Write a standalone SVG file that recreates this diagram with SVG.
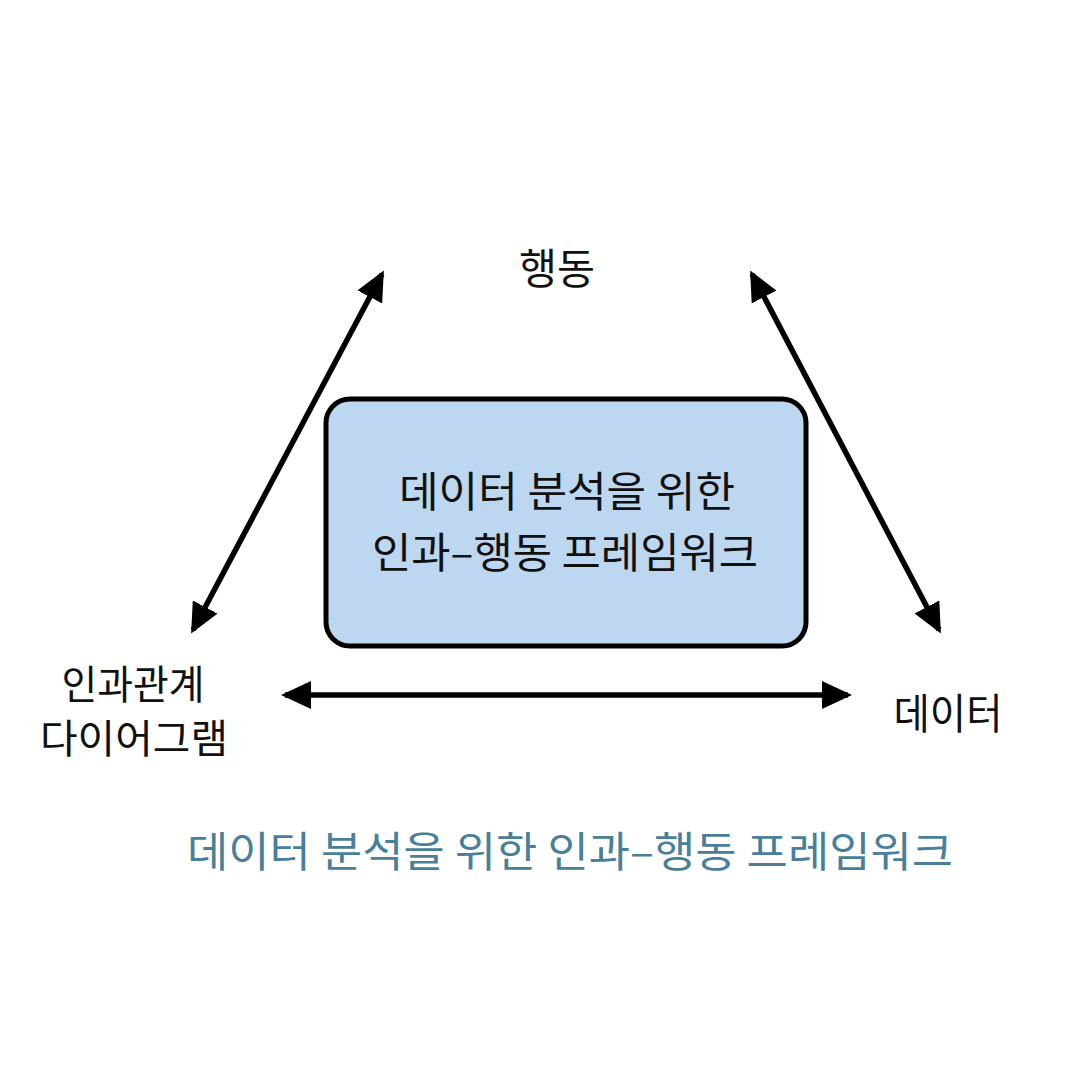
<svg xmlns="http://www.w3.org/2000/svg" width="1080" height="1080" viewBox="0 0 1080 1080">
<style>
.t{font-family:"Noto Sans CJK KR","Noto Sans",sans-serif;font-size:42px;fill:#111;text-anchor:middle}
.s{font-size:40px}
.cap{fill:#4a7f9a}
.c{stroke:#000;stroke-width:5.5;fill:none;marker-start:url(#ah);marker-end:url(#ah)}
</style>
<defs>
<marker id="ah" markerUnits="userSpaceOnUse" viewBox="0 0 30 28" refX="26" refY="14" markerWidth="30" markerHeight="28" orient="auto-start-reverse">
<path d="M0,0 L30,14 L0,28 Z" fill="#000"/>
</marker>
</defs>
<rect width="1080" height="1080" fill="#fff"/>
<g id="connectors">
<line class="c" x1="193" y1="630" x2="382" y2="274"/>
<line class="c" x1="752" y1="274" x2="939" y2="630"/>
<line class="c" x1="285" y1="695" x2="848" y2="695"/>
</g>
<g id="center">
<rect x="326" y="399" width="480" height="247" rx="24" fill="#bdd7f0" stroke="#000" stroke-width="5"/>
<text class="t" x="567" y="507" textLength="336" lengthAdjust="spacingAndGlyphs">데이터 분석을 위한</text>
<text class="t" x="565" y="568" textLength="386" lengthAdjust="spacingAndGlyphs">인과–행동 프레임워크</text>
</g>
<g id="action"><text class="t" x="557" y="284" textLength="76" lengthAdjust="spacingAndGlyphs">행동</text></g>
<g id="causal">
<text class="t s" x="133" y="699" textLength="143" lengthAdjust="spacingAndGlyphs">인과관계</text>
<text class="t s" x="134" y="753" textLength="188" lengthAdjust="spacingAndGlyphs">다이어그램</text>
</g>
<g id="data"><text class="t" x="948" y="729" textLength="109" lengthAdjust="spacingAndGlyphs">데이터</text></g>
<g id="caption"><text class="t cap" x="570" y="867" textLength="766" lengthAdjust="spacingAndGlyphs">데이터 분석을 위한 인과–행동 프레임워크</text></g>
</svg>
